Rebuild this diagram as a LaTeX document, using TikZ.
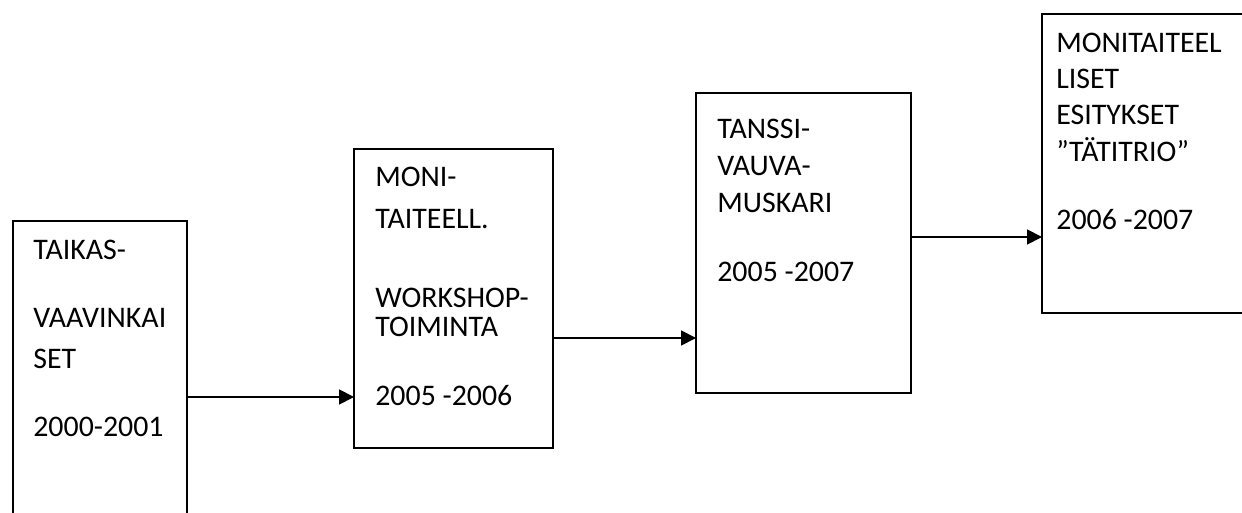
\documentclass[tikz,border=0pt]{standalone}
\usepackage{fontspec}
\setmainfont{Carlito}
\usetikzlibrary{arrows.meta}

\begin{document}
\begin{tikzpicture}[x=0.02cm, y=-0.02cm, >={Triangle[length=0.3cm, width=0.3cm]},
    box/.style={draw, line width=1pt, inner sep=0pt, outer sep=0pt},
    lbl/.style={anchor=base west, inner sep=0pt, font=\fontsize{17}{20}\selectfont},
    flow/.style={->, line width=1pt}]
    \useasboundingbox (0,0) rectangle (1242,513);
    \clip (0,0) rectangle (1242,513);

    % boxes (first one runs off the bottom, last one off the right)
    \node[box, minimum width=3.48cm, minimum height=6.78cm] (b1) at (100,390.5) {};
    \node[box, minimum width=3.98cm, minimum height=5.98cm] (b2) at (453.5,298.5) {};
    \node[box, minimum width=4.30cm, minimum height=6.00cm] (b3) at (803.5,243) {};
    \node[box, minimum width=4.36cm, minimum height=5.98cm] (b4) at (1151,163.5) {};

    % texts
    \foreach \t/\y in {TAIKAS-/260, VAAVINKAI/328, SET/369, 2000-2001/437}
        \node[lbl] (t1-\y) at (33,\y) {\t};
    \foreach \t/\y in {MONI-/187, TAITEELL./229, WORKSHOP-/308, TOIMINTA/337, 2005 -2006/406}
        \node[lbl] (t2-\y) at (375,\y) {\t};
    \foreach \t/\y in {TANSSI-/139, VAUVA-/176, MUSKARI/213, 2005 -2007/282}
        \node[lbl] (t3-\y) at (717,\y) {\t};
    \foreach \t/\y in {MONITAITEEL/53, LISET/89, ESITYKSET/125, ”TÄTITRIO”/162, 2006 -2007/230}
        \node[lbl] (t4-\y) at (1056,\y) {\t};

    % arrows
    \coordinate (a1) at (0,397);
    \coordinate (a2) at (0,338);
    \coordinate (a3) at (0,237);
    \draw[flow] (b1.east |- a1) -- (b2.west |- a1);
    \draw[flow] (b2.east |- a2) -- (b3.west |- a2);
    \draw[flow] (b3.east |- a3) -- (b4.west |- a3);
\end{tikzpicture}
\end{document}
